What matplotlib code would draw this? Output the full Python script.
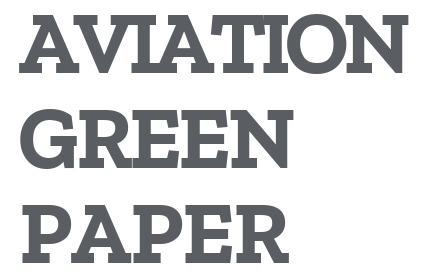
import matplotlib
matplotlib.use("Agg")
import matplotlib.pyplot as plt
from matplotlib.font_manager import FontProperties
from matplotlib.textpath import TextPath

lines = ["AVIATION", "GREEN", "PAPER"]
left_px = [18, 18, 18]
right_px = [410, 295, 290]
baseline_px = [73, 168, 263]
color = "#5a5e63"
FAMILY = "Zilla Slab"
CAP_PX = 58

W, H, DPI = 421, 274, 100
fig = plt.figure(figsize=(W / DPI, H / DPI), dpi=DPI)
fig.canvas.draw()
r = fig.canvas.get_renderer()

fp = FontProperties(family=FAMILY, weight="bold")
cap_ratio = TextPath((0, 0), "H", size=100, prop=fp).get_extents().height / 100
fs = CAP_PX / cap_ratio * 72 / DPI
font = dict(family=FAMILY, weight="bold", size=fs, color=color)

for line, lx, rx, by in zip(lines, left_px, right_px, baseline_px):
    widths = []
    for ch in line:
        t = fig.text(0, 0, ch, **font)
        widths.append(t.get_window_extent(r).width)
        t.remove()
    gap = (rx - lx - sum(widths)) / (len(line) - 1)
    x = lx
    for ch, w in zip(line, widths):
        fig.text(x / W, 1 - by / H, ch, ha="left", va="baseline", **font)
        x += w + gap

fig.savefig("out.png", dpi=DPI, facecolor="white")
